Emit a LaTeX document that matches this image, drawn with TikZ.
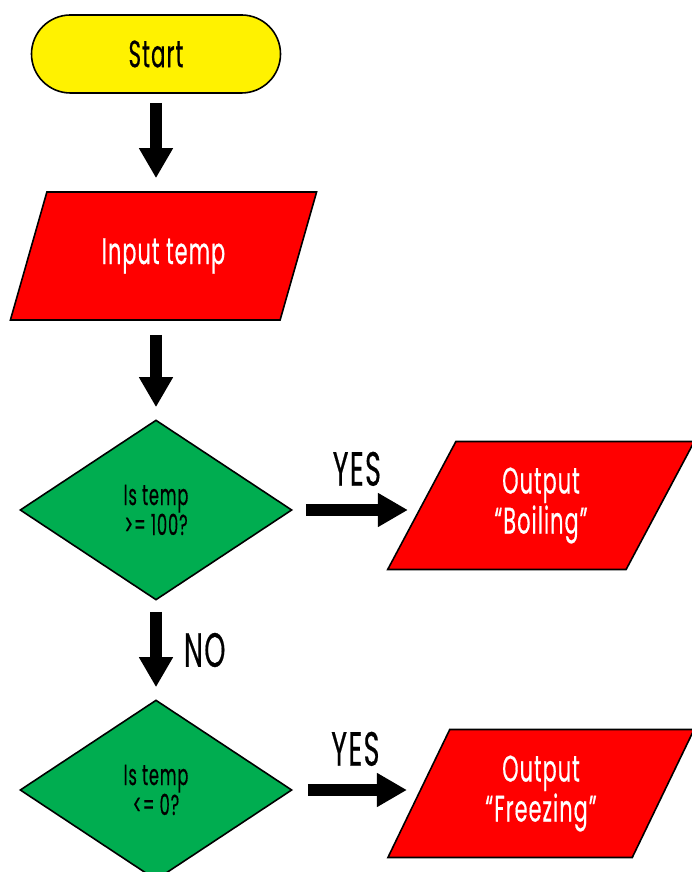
\documentclass[tikz,border=0pt]{standalone}
\usepackage{fontspec}
\setmainfont{Poppins}[FakeStretch=0.56, FakeBold=0.4, LetterSpace=3]
\usepackage{xcolor}
\usetikzlibrary{shapes.geometric,arrows.meta,positioning}
\definecolor{boxgreen}{HTML}{00AD50}
\tikzset{
  terminal/.style={ % start oval
    draw, line width=1.6pt, fill=yellow, rounded corners=39pt,
    minimum width=249pt, minimum height=78pt,
    font=\fontsize{38}{40}\selectfont, text=black
  },
  io/.style={ % input / output parallelogram
    draw, line width=1.6pt, fill=red, trapezium,
    trapezium left angle=64.2, trapezium right angle=115.8,
    trapezium stretches=true,
    minimum width=307pt, minimum height=128pt,
    font=\fontsize{37}{40}\selectfont, text=white, align=center
  },
  decision/.style={ % yes/no test
    draw, line width=1.6pt, fill=boxgreen, diamond, aspect=1.51,
    minimum width=272pt, minimum height=180pt, inner sep=0pt,
    font=\fontsize{29}{30}\selectfont, text=black, align=center
  },
  bigarrow/.style={
    line width=12pt, -{Triangle[width=32pt,length=30pt]}
  },
  answer/.style={font=\fontsize{48}{48}\selectfont, inner sep=0pt}
}
\begin{document}
\begin{tikzpicture}[x=1pt, y=1pt]
  \useasboundingbox (0,0) rectangle (692,872);

  \node[terminal] (start) at (156,818) {Start};
  \node[io] (input) at (163.5,616) {Input temp};
  \node[decision] (hot) at (156,362) {Is temp\\>= 100?};
  \node[io] (boil) at (541,366.5) {Output\\“Boiling”};
  \node[decision] (cold) at (156,82) {Is temp\\<= 0?};
  \node[io] (freeze) at (541,78.5) {Output\\“Freezing”};

  \draw[bigarrow, shorten <=9pt, shorten >=13pt] (start) -- (start |- input.north);
  \draw[bigarrow, shorten <=14pt, shorten >=12pt] (hot |- input.south) -- (hot);
  \draw[bigarrow, shorten <=13pt, shorten >=13pt] (hot.east) -- (hot.east -| boil.west)
    node[answer, midway, above=18pt] (yes_a) {YES};
  \draw[bigarrow, shorten <=11pt, shorten >=12pt] (hot) -- (cold)
    node[answer, midway, right=22pt] (no_a) {NO};
  \draw[bigarrow, shorten <=15pt, shorten >=11pt] (cold.east) -- (cold.east -| freeze.west)
    node[answer, midway, above=18pt] (yes_b) {YES};
\end{tikzpicture}
\end{document}
